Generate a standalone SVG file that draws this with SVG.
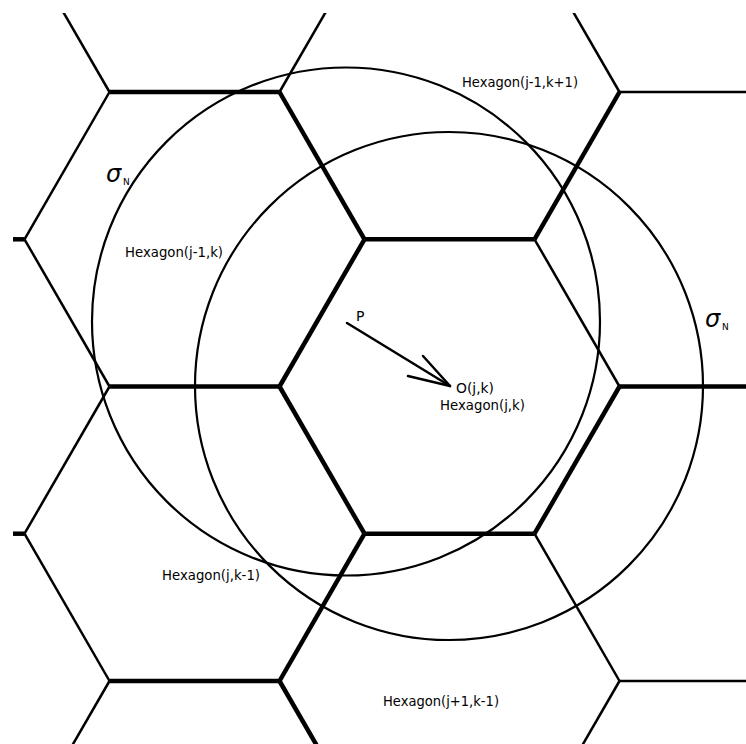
<svg xmlns="http://www.w3.org/2000/svg" width="746" height="744" viewBox="0 0 746 744">
<defs>
<clipPath id="frame"><rect x="13" y="13" width="733" height="731"/></clipPath>
</defs>
<style>
.thick{stroke:#000;stroke-width:4.5;fill:none;stroke-linecap:butt}
.thin{stroke:#000;stroke-width:2.5;fill:none;stroke-linecap:butt}
.circ{stroke:#000;stroke-width:2.2;fill:none}
.lbl{font-family:"DejaVu Sans","Liberation Sans",sans-serif;font-size:14px;fill:#000}
.sig{font-family:"DejaVu Sans","Liberation Sans",sans-serif;font-size:24px;font-style:italic;fill:#000}
.sub{font-family:"DejaVu Sans","Liberation Sans",sans-serif;font-size:9px;fill:#000}
.arr{stroke:#000;stroke-width:2.5;fill:none;stroke-linecap:round}
</style>
<rect width="746" height="744" fill="#fff"/>
<g id="hexgrid" clip-path="url(#frame)">
<g id="thick-edges" class="thick">
<line x1="109.5" y1="92" x2="279.5" y2="92"/>
<line x1="279.5" y1="92" x2="364.5" y2="239.3"/>
<line x1="364.5" y1="239.3" x2="534.5" y2="239.3"/>
<line x1="534.5" y1="239.3" x2="619.5" y2="92"/>
<line x1="619.5" y1="386.5" x2="760" y2="386.5"/>
<line x1="619.5" y1="386.5" x2="534.5" y2="533.7"/>
<line x1="534.5" y1="533.7" x2="364.5" y2="533.7"/>
<line x1="364.5" y1="533.7" x2="279.5" y2="386.5"/>
<line x1="279.5" y1="386.5" x2="364.5" y2="239.3"/>
<line x1="279.5" y1="386.5" x2="109.5" y2="386.5"/>
<line x1="0" y1="239.3" x2="24.5" y2="239.3"/>
<line x1="0" y1="533.7" x2="24.5" y2="533.7"/>
<line x1="109.5" y1="681" x2="279.5" y2="681"/>
<line x1="279.5" y1="681" x2="364.5" y2="533.7"/>
<line x1="279.5" y1="681" x2="364.5" y2="828"/>
</g>
<g id="thin-edges" class="thin">
<line x1="24.5" y1="-55" x2="109.5" y2="92"/>
<line x1="279.5" y1="92" x2="364.5" y2="-55"/>
<line x1="619.5" y1="92" x2="534.5" y2="-55"/>
<line x1="619.5" y1="92" x2="760" y2="92"/>
<line x1="534.5" y1="239.3" x2="619.5" y2="386.5"/>
<line x1="109.5" y1="92" x2="24.5" y2="239.3"/>
<line x1="24.5" y1="239.3" x2="109.5" y2="386.5"/>
<line x1="109.5" y1="386.5" x2="24.5" y2="533.7"/>
<line x1="24.5" y1="533.7" x2="109.5" y2="681"/>
<line x1="109.5" y1="681" x2="24.5" y2="828"/>
<line x1="534.5" y1="533.7" x2="619.5" y2="681"/>
<line x1="619.5" y1="681" x2="760" y2="681"/>
<line x1="619.5" y1="681" x2="534.5" y2="828"/>
</g>
</g>
<g id="circles">
<circle id="circle-P" class="circ" cx="346" cy="321.5" r="254"/>
<circle id="circle-O" class="circ" cx="449" cy="386" r="254"/>
</g>
<g id="hex-j-1-k1"><text class="lbl" x="462" y="87" textLength="116" lengthAdjust="spacingAndGlyphs">Hexagon(j-1,k+1)</text></g>
<g id="hex-j-1-k"><text class="lbl" x="125" y="257" textLength="98" lengthAdjust="spacingAndGlyphs">Hexagon(j-1,k)</text></g>
<g id="hex-j-k">
<text class="lbl" x="456" y="393" textLength="38" lengthAdjust="spacingAndGlyphs">O(j,k)</text>
<text class="lbl" x="440" y="410" textLength="85" lengthAdjust="spacingAndGlyphs">Hexagon(j,k)</text>
</g>
<g id="hex-j-k-1"><text class="lbl" x="162" y="580" textLength="98" lengthAdjust="spacingAndGlyphs">Hexagon(j,k-1)</text></g>
<g id="hex-j1-k-1"><text class="lbl" x="383" y="706" textLength="116" lengthAdjust="spacingAndGlyphs">Hexagon(j+1,k-1)</text></g>
<g id="point-P"><text class="lbl" x="356" y="321">P</text></g>
<g id="sigma-1"><text class="sig" x="106" y="182">σ</text><text class="sub" x="123" y="185">N</text></g>
<g id="sigma-2"><text class="sig" x="705" y="327">σ</text><text class="sub" x="722" y="330">N</text></g>
<g id="connectors">
<line class="arr" x1="347" y1="323" x2="450" y2="386"/>
<line class="arr" x1="450" y1="386" x2="423" y2="356"/>
<line class="arr" x1="450" y1="386" x2="408" y2="376"/>
</g>
</svg>
